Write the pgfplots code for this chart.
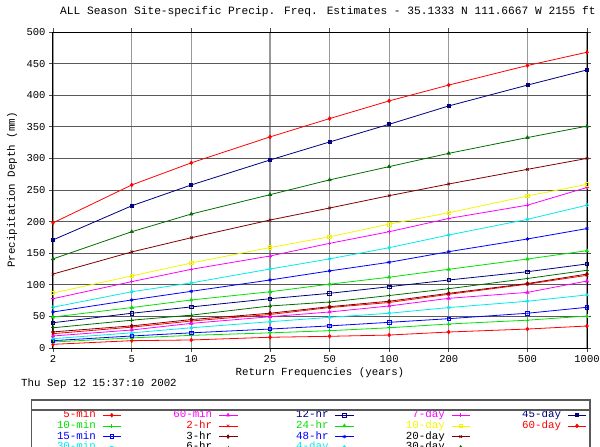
\documentclass[border=0pt]{standalone}
\usepackage{fontspec}
\setmainfont{Liberation Mono}
\usepackage{pgfplots}
\pgfplotsset{compat=1.18}
\definecolor{cRed}{RGB}{255,0,0}
\definecolor{cGreen}{RGB}{0,225,0}
\definecolor{cBlue}{RGB}{0,0,255}
\definecolor{cCyan}{RGB}{0,235,235}
\definecolor{cMag}{RGB}{255,0,255}
\definecolor{cDkRed}{RGB}{128,0,0}
\definecolor{cDkGreen}{RGB}{0,110,0}
\definecolor{cNavy}{RGB}{0,0,128}
\definecolor{cYellow}{RGB}{245,245,0}
\newcommand{\ff}{\fontsize{10.8}{12}\selectfont}
\pgfplotsset{
  ser/.style={line width=0.8pt, mark size=1.8pt, mark options={solid,line width=0.7pt}},
  s5min/.style={ser, color=cRed, mark=diamond*},
  s10min/.style={ser, color=cGreen, mark=+},
  s15min/.style={ser, color=cBlue, mark=square},
  s30min/.style={ser, color=cCyan, mark=asterisk},
  s60min/.style={ser, color=cMag, mark=triangle*},
  s2hr/.style={ser, color=cRed, mark=x},
  s3hr/.style={ser, color=cDkRed, mark=diamond*},
  s6hr/.style={ser, color=cDkGreen, mark=+},
  s12hr/.style={ser, color=cNavy, mark=square},
  s24hr/.style={ser, color=cGreen, mark=triangle*},
  s48hr/.style={ser, color=cBlue, mark=asterisk},
  s4day/.style={ser, color=cCyan, mark=diamond},
  s7day/.style={ser, color=cMag, mark=+},
  s10day/.style={ser, color=cYellow, mark=square},
  s20day/.style={ser, color=cDkRed, mark=x},
  s30day/.style={ser, color=cDkGreen, mark=triangle*},
  s45day/.style={ser, color=cNavy, mark=square*, mark size=1.5pt},
  s60day/.style={ser, color=cRed, mark=diamond*},
}
\newcommand{\legE}[2]{\addlegendentry{\makebox[97pt][r]{\textcolor{#1}{#2}\hspace{6.5pt}}}}
\begin{document}
\begin{tikzpicture}
\begin{axis}[
  scale only axis, width=534pt, height=316pt,
  xmode=log, xmin=2, xmax=1000, ymin=0, ymax=500,
  xtick={2,5,10,25,50,100,200,500,1000},
  xticklabels={2,5,10,25,50,100,200,500,1000},
  ytick={0,50,...,500},
  minor xtick={}, minor ytick={},
  /pgf/number format/assume math mode=true,
  tick label style={font=\fontsize{10.5}{12}\selectfont},
  tick align=outside, major tick length=4pt,
  tick style={black!70, line width=0.8pt},
  xmajorgrids, ymajorgrids,
  x grid style={black!40, line width=1.3pt},
  y grid style={black!65, line width=0.8pt},
  axis line style={black, line width=1pt},
  title={ALL Season Site-specific Precip. Freq. Estimates - 35.1333 N 111.6667 W 2155 ft},
  title style={font=\fontsize{11.2}{12}\selectfont, at={(axis description cs:0,1)}, anchor=base west, xshift=7pt, yshift=12pt, inner sep=0pt},
  xlabel={Return Frequencies (years)},
  xlabel style={font=\ff, at={(axis description cs:0.5,0)}, anchor=center, yshift=-25pt},
  ylabel={Precipitation Depth (mm)},
  ylabel style={font=\ff, at={(axis description cs:0,0.5)}, anchor=center, yshift=41pt},
  legend columns=5,
  legend plot pos=right,
  legend cell align=right,
  legend image code/.code={\draw[mark repeat=2,mark phase=2] plot coordinates {(0pt,0pt) (9pt,0pt) (18.5pt,0pt)};},
  legend style={font=\ff, at={(axis description cs:0,0)}, anchor=north west, xshift=-47.8pt, yshift=-62pt,
    draw=none, fill=none, inner sep=0pt, row sep=0.7pt, column sep=0pt,
    nodes={inner sep=0pt, text height=7.5pt, text depth=2.5pt}},
]
\addplot[s5min, forget plot] coordinates {(2,5.8)(5,11.6)(10,12.7)(25,17)(50,18.5)(100,20.5)(200,25.3)(500,30)(1000,34.8)};
\addplot[s10min, forget plot] coordinates {(2,9.5)(5,16)(10,20)(25,24)(50,27.4)(100,32)(200,38)(500,44)(1000,50.6)};
\addplot[s15min, forget plot] coordinates {(2,11.6)(5,19)(10,24)(25,30)(50,35)(100,40.6)(200,46.4)(500,55)(1000,64.4)};
\addplot[s30min, forget plot] coordinates {(2,14.8)(5,24)(10,32)(25,41.6)(50,48.5)(100,55)(200,64)(500,74)(1000,84)};
\addplot[s60min, forget plot] coordinates {(2,19)(5,28.5)(10,39)(25,49.5)(50,57)(100,66.5)(200,78.6)(500,88)(1000,106)};
\addplot[s2hr, forget plot] coordinates {(2,22.7)(5,33)(10,42.7)(25,53)(50,64)(100,72)(200,85)(500,101)(1000,115)};
\addplot[s3hr, forget plot] coordinates {(2,25.5)(5,35)(10,45)(25,55)(50,65.4)(100,74)(200,86.5)(500,102)(1000,117)};
\addplot[s6hr, forget plot] coordinates {(2,32)(5,44)(10,52)(25,66.5)(50,72.8)(100,83)(200,93.8)(500,110)(1000,123)};
\addplot[s12hr, forget plot] coordinates {(2,40)(5,55)(10,65)(25,78)(50,86.5)(100,97)(200,107.6)(500,120.7)(1000,133)};
\addplot[s24hr, forget plot] coordinates {(2,49)(5,64)(10,76)(25,89)(50,101)(100,112)(200,124.5)(500,140.8)(1000,154)};
\addplot[s48hr, forget plot] coordinates {(2,57)(5,76)(10,89.7)(25,107.6)(50,122)(100,135.6)(200,152.4)(500,172.5)(1000,189)};
\addplot[s4day, forget plot] coordinates {(2,64.5)(5,89)(10,103)(25,125)(50,141)(100,158.7)(200,178.8)(500,203.6)(1000,226)};
\addplot[s7day, forget plot] coordinates {(2,78)(5,105)(10,124.5)(25,145.6)(50,165.6)(100,184)(200,205)(500,226)(1000,254)};
\addplot[s10day, forget plot] coordinates {(2,87)(5,114)(10,134.5)(25,159)(50,176)(100,196)(200,214)(500,240.5)(1000,259)};
\addplot[s20day, forget plot] coordinates {(2,117)(5,152)(10,174.5)(25,202.5)(50,221.5)(100,241)(200,259.5)(500,282.7)(1000,300)};
\addplot[s30day, forget plot] coordinates {(2,141)(5,184)(10,212)(25,242.6)(50,266)(100,287)(200,308)(500,333)(1000,351)};
\addplot[s45day, forget plot] coordinates {(2,171)(5,225)(10,258)(25,297.5)(50,326)(100,354)(200,383)(500,416)(1000,440)};
\addplot[s60day, forget plot] coordinates {(2,198)(5,258)(10,293)(25,334)(50,363)(100,391)(200,416)(500,447)(1000,468)};
% legend, row by row
\addlegendimage{s5min}\legE{cRed}{5-min}
\addlegendimage{s60min}\legE{cMag}{60-min}
\addlegendimage{s12hr}\legE{cNavy}{12-hr}
\addlegendimage{s7day}\legE{cMag}{7-day}
\addlegendimage{s45day}\legE{cNavy}{45-day}
\addlegendimage{s10min}\legE{cGreen}{10-min}
\addlegendimage{s2hr}\legE{cRed}{2-hr}
\addlegendimage{s24hr}\legE{cGreen}{24-hr}
\addlegendimage{s10day}\legE{cYellow}{10-day}
\addlegendimage{s60day}\legE{cRed}{60-day}
\addlegendimage{s15min}\legE{cBlue}{15-min}
\addlegendimage{s3hr}\legE{black}{3-hr}
\addlegendimage{s48hr}\legE{cBlue}{48-hr}
\addlegendimage{s20day}\legE{black}{20-day}
\addlegendimage{empty legend}\addlegendentry{}
\addlegendimage{s30min}\legE{cCyan}{30-min}
\addlegendimage{s6hr}\legE{black}{6-hr}
\addlegendimage{s4day}\legE{cCyan}{4-day}
\addlegendimage{s30day}\legE{black}{30-day}
\end{axis}
\node[anchor=west, font=\ff, inner sep=0pt] at (-32pt,-36pt) {Thu Sep 12 15:37:10 2002};
\draw[black!65, line width=1.2pt] (-21.3pt,-52pt) rectangle (537pt,-140pt);
\draw[black!65, line width=1.2pt] (-21.3pt,-62pt) -- (537pt,-62pt);
\pgfresetboundingbox
\useasboundingbox (-53pt,-99pt) rectangle (547pt,348pt);
\end{tikzpicture}
\end{document}
